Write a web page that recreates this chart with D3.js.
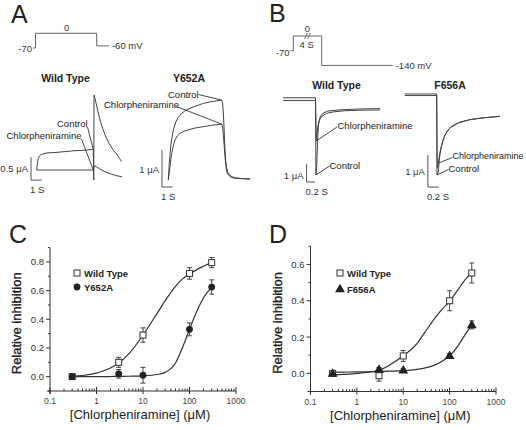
<!DOCTYPE html>
<html lang="en">
<head>
<meta charset="UTF-8">
<title>Chlorpheniramine block of hERG mutants</title>
<script src="https://cdnjs.cloudflare.com/ajax/libs/d3/7.8.5/d3.min.js"></script>
<style>
    body { margin: 0; background: #fff; }
    svg { display: block; font-family: "Liberation Sans", Arial, sans-serif; }
    .trace { fill: none; stroke: #444; stroke-width: 1; }
    .proto { fill: none; stroke: #666; stroke-width: 1; }
    .bar { fill: none; stroke: #555; stroke-width: 1; }
    .callout { stroke: #333; stroke-width: 0.9; }
    .axis { stroke: #333; stroke-width: 1; }
    .fit { fill: none; stroke: #333; stroke-width: 1.2; }
    .err { stroke: #444; stroke-width: 1; }
</style>
</head>
<body>
<svg id="fig" width="526" height="430"></svg>
<script>
// ---------- C / D: concentration-response ----------
const conc = [0.3, 3, 10, 100, 300];
const wtC = [0.0, 0.10, 0.29, 0.72, 0.795];
const wtCErr = [0.012, 0.035, 0.05, 0.04, 0.035];
const y652a = [0.0, 0.02, 0.01, 0.33, 0.625];
const y652aErr = [0.01, 0.03, 0.055, 0.045, 0.05];
const wtD = [0.0, -0.013, 0.096, 0.40, 0.553];
const wtDErr = [0.01, 0.03, 0.03, 0.055, 0.055];
const f656a = [0.0, 0.022, 0.017, 0.098, 0.267];
const f656aErr = [0.008, 0.01, 0.01, 0.01, 0.022];

// fitted curves
const fitConc = [0.3, 0.5, 1, 2, 3, 5, 10, 20, 30, 50, 70, 100, 150, 200, 300];
const wtCFit = [0.003, 0.008, 0.025, 0.06, 0.095, 0.16, 0.29, 0.44, 0.53, 0.63, 0.68, 0.715, 0.75, 0.77, 0.795];
const y652aFit = [0.0, 0.0, 0.0, 0.001, 0.002, 0.003, 0.006, 0.015, 0.03, 0.095, 0.2, 0.33, 0.47, 0.55, 0.625];
const wtDFit = [-0.008, -0.006, 0.0, 0.008, 0.017, 0.045, 0.097, 0.165, 0.23, 0.31, 0.355, 0.397, 0.46, 0.505, 0.555];
const f656aFit = [0.006, 0.007, 0.008, 0.009, 0.01, 0.012, 0.015, 0.022, 0.03, 0.048, 0.068, 0.097, 0.15, 0.2, 0.267];

const xTicks = [0.1, 1, 10, 100, 1000];
const xTickLabels = ["0.1", "1", "10", "100", "1000"];
const yTicksC = [0, 0.2, 0.4, 0.6, 0.8];
const yMinorC = [-0.1, 0.1, 0.3, 0.5, 0.7, 0.9];
const yTicksD = [0, 0.2, 0.4, 0.6];
const yMinorD = [-0.1, 0.1, 0.3, 0.5, 0.7];

// ---------- A / B: current traces, [time (s), current (uA)] ----------
const wtAControl = [[0,0],[0.04,0.09],[0.08,0.17],[0.15,0.25],[0.24,0.3],[0.38,0.33],[0.59,0.35],[0.96,0.37],[1.71,0.38],[2.64,0.4],[3.58,0.42],[4.51,0.43],[5.29,0.45],
    [5.33,-0.22],[5.36,1.63],[5.47,1.54],[5.57,1.43],[5.71,1.28],[5.92,1.09],[6.15,0.91],[6.43,0.74],[6.76,0.58],[7.16,0.43],[7.55,0.32],[7.94,0.18]];
const wtAChlor = [[0,0],[1.5,0],[3,0],[5.29,0],[5.38,0.09],[5.6,0.07],[5.92,0.02],[6.4,-0.04],[6.86,-0.08],[7.4,-0.12],[7.97,-0.15]];
const y652aControl = [[0,0],[0.05,0.22],[0.09,0.45],[0.16,0.7],[0.22,0.9],[0.31,1.09],[0.41,1.26],[0.55,1.43],[0.72,1.58],[0.95,1.7],[1.25,1.8],[1.61,1.88],[2.03,1.94],[2.59,2.0],[3.27,2.07],[4.08,2.12],[4.99,2.16],
    [5.07,2.08],[5.14,1.84],[5.22,1.35],[5.3,0.81],[5.37,0.51],[5.46,0.32],[5.58,0.2],[5.7,0.14],[5.95,0.09],[6.23,0.06],[6.89,0.04],[7.64,0.03]];
const y652aChlor = [[0,0],[0.08,0.19],[0.16,0.36],[0.23,0.54],[0.32,0.72],[0.46,0.92],[0.63,1.08],[0.84,1.19],[1.09,1.26],[1.51,1.32],[2.03,1.37],[2.59,1.41],[3.27,1.44],[4.08,1.48],[4.99,1.51],
    [5.07,1.43],[5.14,1.24],[5.22,0.95],[5.3,0.63],[5.37,0.41],[5.46,0.22],[5.61,0.14],[5.77,0.09],[6.14,0.05],[6.7,0.04],[7.64,0.02]];
const wtBControl = [[-0.76,0.68],[0,0.68],[0.01,-3.61],[0.03,-3.06],[0.05,-1.67],[0.07,-0.83],[0.11,-0.39],[0.18,-0.17],[0.29,-0.06],[0.58,0.01],[1.05,0.06],[1.52,0.08]];
const wtBChlor = [[-0.76,0.53],[0,0.53],[0.02,-1.72],[0.05,-1.0],[0.08,-0.61],[0.14,-0.36],[0.25,-0.19],[0.41,-0.11],[0.69,-0.04],[1.16,-0.01],[1.52,0]];
const f656aControl = [[-0.58,0.72],[0,0.72],[0.005,-1.81],[0.03,-1.72],[0.05,-1.28],[0.08,-0.97],[0.12,-0.69],[0.19,-0.44],[0.28,-0.28],[0.42,-0.16],[0.61,-0.08],[0.88,-0.02],[1.15,0.02]];
const f656aChlor = [[-0.58,0.67],[0,0.67],[0.01,-1.59],[0.03,-1.44],[0.06,-1.09],[0.1,-0.81],[0.15,-0.56],[0.24,-0.34],[0.39,-0.19],[0.61,-0.08],[0.88,-0.02],[1.15,0.02]];

// voltage protocols, [time, mV]
const protocolA = [[-0.2,-70],[0,-70],[0,0],[5,0],[5,-60],[6,-60]];
const protocolB = [[-0.1,-70],[0,-70],[0,0],[1,0],[1,-140],[3.5,-140]];

const svg = d3.select("#fig");
svg.append("rect").attr("width", 526).attr("height", 430).attr("fill", "#fff");

function label(x, y, s, size, opts) {
    opts = opts || {};
    return svg.append("text")
        .attr("x", x).attr("y", y)
        .attr("font-size", size)
        .attr("font-weight", opts.bold ? "bold" : "normal")
        .attr("text-anchor", opts.anchor || "start")
        .attr("fill", opts.color || "#222")
        .text(s);
}

// panel letters
label(11, 23, "A", 25);
label(269, 22, "B", 25);
label(9, 243, "C", 25);
label(269, 243, "D", 25);

// ---------- voltage protocols ----------
function protocol(data, xr, top) {
    const x = d3.scaleLinear().domain([0, 1]).range(xr);
    const y = d3.scaleLinear().domain([0, -100]).range([top, top + 21]);
    svg.append("path").attr("class", "proto")
        .attr("d", d3.line().x(d => x(d[0])).y(d => y(d[1]))(data));
    return { x, y };
}

const pA = protocol(protocolA, [35.5, 47.74], 33.3);
label(pA.x(-0.2) - 1, pA.y(-70) + 4, "-70", 9.5, { anchor: "end", color: "#333" });
label(pA.x(2.55), pA.y(0) - 2, "0", 9.5, { anchor: "middle", color: "#333" });
label(pA.x(6) + 3, pA.y(-60) + 3.5, "-60 mV", 9.5, { color: "#333" });

const pB = protocol(protocolB, [293.3, 321.7], 36);
label(pB.x(-0.1) - 1, pB.y(-70) + 5, "-70", 9.5, { anchor: "end", color: "#333" });
label(pB.x(0.5), pB.y(0) - 4, "0", 9.5, { anchor: "middle", color: "#333" });
label(pB.x(0.47), pB.y(0) + 12, "4 S", 9.5, { anchor: "middle", color: "#333" });
label(pB.x(3.5) + 3, pB.y(-140) + 3.5, "-140 mV", 9.5, { color: "#333" });
// break marks on the 0 mV step
[-1.5, 1.5].forEach(dx => {
    svg.append("line").attr("class", "proto")
        .attr("x1", pB.x(0.5) + dx - 1.5).attr("y1", pB.y(0) + 3)
        .attr("x2", pB.x(0.5) + dx + 1.5).attr("y2", pB.y(0) - 3);
});

// ---------- current traces ----------
function tracePanel(p) {
    const x = d3.scaleLinear().domain([0, 1]).range(p.xr);
    const y = d3.scaleLinear().domain([0, 1]).range(p.yr);
    const line = d3.line().x(d => x(d[0])).y(d => y(d[1]));
    const g = svg.append("g");

    p.traces.forEach(tr => {
        g.append("path").attr("class", "trace")
            .attr("stroke", tr.color || "#444")
            .attr("d", line(tr.data));
    });

    // scale bar
    const [bt, bi] = p.barAt;
    g.append("path").attr("class", "bar")
        .attr("d", line([[bt, bi + p.barI], [bt, bi], [bt + p.barT, bi]]));
    label(x(bt) - 3, y(bi + p.barI / 2) + p.iLabelDy, p.iLabel, 9.5, { anchor: "end", color: "#333" });
    label(x(bt) - 1, y(bi) + 13, p.tLabel, 9.5, { color: "#333" });

    // title
    label(p.title[0], p.title[1], p.title[2], 10.5, { bold: true, anchor: "middle" });

    // callouts
    p.callouts.forEach(c => {
        label(c.tx, c.ty, c.text, c.size || 9.5);
        const pt = c.data[c.idx];
        g.append("line").attr("class", "callout")
            .attr("x1", c.lx).attr("y1", c.ly)
            .attr("x2", x(pt[0])).attr("y2", y(pt[1]));
    });
}

tracePanel({
    xr: [36.7, 47.4], yr: [170, 124],
    traces: [
        { data: wtAChlor, color: "#444" },
        { data: wtAControl, color: "#666" }
    ],
    barAt: [-0.53, -0.22], barT: 1, barI: 0.5,
    iLabel: "0.5 \u03bcA", tLabel: "1 S", iLabelDy: 3,
    title: [65.5, 81.5, "Wild Type"],
    callouts: [
        { text: "Control", tx: 57, ty: 126.5, lx: 87.5, ly: 127, data: wtAControl, idx: 12 },
        { text: "Chlorpheniramine", tx: 6.5, ty: 138.5, lx: 81.5, ly: 139, data: wtAChlor, idx: 3 }
    ]
});

tracePanel({
    xr: [168.3, 179], yr: [180, 143],
    traces: [
        { data: y652aControl },
        { data: y652aChlor }
    ],
    barAt: [-0.59, -0.19], barT: 1, barI: 1,
    iLabel: "1 \u03bcA", tLabel: "1 S", iLabelDy: 4,
    title: [189, 81.5, "Y652A"],
    callouts: [
        { text: "Control", tx: 168, ty: 97.5, lx: 198.5, ly: 94.5, data: y652aControl, idx: 16 },
        { text: "Chlorpheniramine", tx: 104, ty: 108, lx: 176.5, ly: 106.5, data: y652aChlor, idx: 14 }
    ]
});

tracePanel({
    xr: [315.5, 358], yr: [110, 92],
    traces: [
        { data: wtBControl, color: "#555" },
        { data: wtBChlor, color: "#777" }
    ],
    barAt: [-0.21, -4.0], barT: 0.2, barI: 1,
    iLabel: "1 \u03bcA", tLabel: "0.2  S", iLabelDy: 6,
    title: [336.5, 89, "Wild Type"],
    callouts: [
        { text: "Chlorpheniramine", tx: 337.5, ty: 128.5, lx: 337, ly: 127, data: wtBChlor, idx: 2 },
        { text: "Control", tx: 329.5, ty: 168.5, lx: 329.5, ly: 166, data: wtBControl, idx: 2 }
    ]
});

tracePanel({
    xr: [436.7, 491.7], yr: [117, 85],
    traces: [
        { data: f656aControl, color: "#444" },
        { data: f656aChlor, color: "#777" }
    ],
    barAt: [-0.16, -2.19], barT: 0.2, barI: 1,
    iLabel: "1 \u03bcA", tLabel: "0.2  S", iLabelDy: 4,
    title: [450, 89, "F656A"],
    callouts: [
        { text: "Chlorpheniramine", tx: 452.5, ty: 158.5, lx: 452.5, ly: 157.5, data: f656aChlor, idx: 3, size: 9 },
        { text: "Control", tx: 448.5, ty: 171.5, lx: 448.5, ly: 169.5, data: f656aControl, idx: 2 }
    ]
});

// ---------- concentration-response panels ----------
function dosePanel(cfg) {
    const x = d3.scaleLog().domain([0.1, 1000]).range(cfg.xRange);
    const y = d3.scaleLinear().domain(cfg.yDomain).range(cfg.yRange);
    const g = svg.append("g");
    const x0 = x(0.1), x1 = x(1000);
    const yb = y(cfg.yDomain[0]), yt = y(cfg.yDomain[1]);

    g.append("line").attr("class", "axis")
        .attr("x1", x0 - 3).attr("x2", x1).attr("y1", yb).attr("y2", yb);
    g.append("line").attr("class", "axis")
        .attr("x1", x0).attr("x2", x0).attr("y1", yb + 3).attr("y2", yt);

    // x ticks
    [0.1, 1, 10, 100].forEach(dec => {
        d3.range(2, 10).forEach(k => {
            g.append("line").attr("class", "axis")
                .attr("x1", x(k * dec)).attr("x2", x(k * dec))
                .attr("y1", yb).attr("y2", yb - 2.5);
        });
    });
    xTicks.forEach((v, i) => {
        g.append("line").attr("class", "axis")
            .attr("x1", x(v)).attr("x2", x(v)).attr("y1", yb + 3).attr("y2", yb - 4);
        label(x(v), yb + 13, xTickLabels[i], 8.5, { anchor: "middle", color: "#444" });
    });

    // y ticks
    cfg.yTicks.forEach(v => {
        g.append("line").attr("class", "axis")
            .attr("x1", x0 - 4).attr("x2", x0).attr("y1", y(v)).attr("y2", y(v));
        label(x0 - 6, y(v) + 3.5, v.toFixed(1), 9.5, { anchor: "end", color: "#333" });
    });
    cfg.yMinor.forEach(v => {
        g.append("line").attr("class", "axis")
            .attr("x1", x0 - 2).attr("x2", x0).attr("y1", y(v)).attr("y2", y(v));
    });

    // axis titles
    label(x(10) - 3, yb + 28, "[Chlorpheniramine] (\u03bcM)", 13, { anchor: "middle", color: "#222" });
    svg.append("text")
        .attr("transform", `translate(${x0 - 29},${(yb + yt) / 2 + 4}) rotate(-90)`)
        .attr("text-anchor", "middle")
        .attr("font-size", 13)
        .attr("fill", "#222")
        .attr("stroke", "#222").attr("stroke-width", 0.3)
        .text("Relative inhibition");

    const fitLine = d3.line().curve(d3.curveMonotoneX)
        .x((d, i) => x(fitConc[i])).y(d => y(d));

    cfg.series.forEach(s => {
        g.append("path").attr("class", "fit").attr("d", fitLine(s.fit));
    });

    cfg.series.forEach(s => {
        conc.forEach((c, i) => {
            const cx = x(c);
            const lo = y(s.values[i] - s.err[i]), hi = y(s.values[i] + s.err[i]);
            g.append("line").attr("class", "err").attr("x1", cx).attr("x2", cx).attr("y1", lo).attr("y2", hi);
            [lo, hi].forEach(yy => {
                g.append("line").attr("class", "err")
                    .attr("x1", cx - 2.5).attr("x2", cx + 2.5).attr("y1", yy).attr("y2", yy);
            });
        });
    });

    cfg.series.forEach(s => {
        conc.forEach((c, i) => drawMarker(g, s.marker, x(c), y(s.values[i])));
    });

    // legend
    cfg.series.forEach((s, i) => {
        const lx = cfg.legend[0], ly = cfg.legend[1] + i * cfg.legend[2];
        drawMarker(svg, s.marker, lx, ly);
        label(lx + 7, ly + 3.5, s.name, 9.5, { bold: true });
    });
}

function drawMarker(g, type, cx, cy) {
    if (type === "square") {
        g.append("rect").attr("x", cx - 3).attr("y", cy - 3).attr("width", 6).attr("height", 6)
            .attr("fill", "#fff").attr("stroke", "#333").attr("stroke-width", 1);
    } else if (type === "circle") {
        g.append("circle").attr("cx", cx).attr("cy", cy).attr("r", 3.4).attr("fill", "#222");
    } else {
        g.append("path").attr("transform", `translate(${cx},${cy + 0.5})`)
            .attr("d", d3.symbol(d3.symbolTriangle, 42)()).attr("fill", "#222");
    }
}

dosePanel({
    xRange: [50, 236], yDomain: [-0.1, 0.9], yRange: [391, 247.6],
    yTicks: yTicksC, yMinor: yMinorC,
    legend: [77, 273, 14],
    series: [
        { name: "Wild Type", values: wtC, err: wtCErr, fit: wtCFit, marker: "square" },
        { name: "Y652A", values: y652a, err: y652aErr, fit: y652aFit, marker: "circle" }
    ]
});

dosePanel({
    xRange: [310.5, 496], yDomain: [-0.1, 0.7], yRange: [391.5, 246.3],
    yTicks: yTicksD, yMinor: yMinorD,
    legend: [340, 273, 16],
    series: [
        { name: "Wild Type", values: wtD, err: wtDErr, fit: wtDFit, marker: "square" },
        { name: "F656A", values: f656a, err: f656aErr, fit: f656aFit, marker: "triangle" }
    ]
});
</script>
</body>
</html>
